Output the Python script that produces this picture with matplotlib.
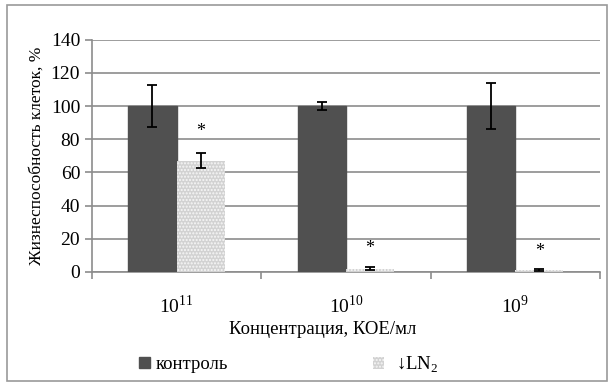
import matplotlib
matplotlib.use("Agg")
import matplotlib.pyplot as plt
import numpy as np
from matplotlib.patches import Patch, Rectangle

plt.rcParams["font.family"] = ["Liberation Serif", "DejaVu Serif"]
plt.rcParams["mathtext.fontset"] = "custom"
plt.rcParams["mathtext.rm"] = "Liberation Serif"
plt.rcParams["hatch.linewidth"] = 1.0

categories = ["$10^{11}$", "$10^{10}$", "$10^{9}$"]
control = [100, 100, 100]
control_err = [12.5, 2.5, 14]
ln2 = [67, 2, 1]
ln2_err = [4.5, 1.0, 0.5]
star_y = [85, 14, 12.5]

fig = plt.figure(figsize=(6.09, 3.83), dpi=100)
ax = fig.add_axes([0.151, 0.29, 0.834, 0.606])

x = np.arange(len(categories))
w = 0.285
hatch_face = "#d2d2d2"
hatch_edge = "#f7f7f7"
ax.bar(x - w / 2, control, w, color="#505050", edgecolor="#505050", zorder=3)
ax.bar(x + w / 2, ln2, w, color=hatch_face, edgecolor=hatch_edge, hatch=".....",
       linewidth=0, zorder=3)
ax.errorbar(x - w / 2, control, yerr=control_err, fmt="none", ecolor="black",
            elinewidth=1.3, capsize=3.5, capthick=1.3, zorder=4)
ax.errorbar(x + w / 2, ln2, yerr=ln2_err, fmt="none", ecolor="black",
            elinewidth=1.3, capsize=3.5, capthick=1.3, zorder=4)
for xi, sy in zip(x + w / 2, star_y):
    ax.text(xi, sy, "*", ha="center", va="center", fontsize=13, zorder=5)

ax.set_ylim(0, 140)
ax.set_xlim(-0.5, 2.5)
ax.set_yticks(np.arange(0, 141, 20))
ax.yaxis.grid(True, color="#8c8c8c", linewidth=1.2, zorder=0)
ax.set_axisbelow(True)

ax.set_xticks([-0.5, 0.5, 1.5, 2.5])
ax.set_xticklabels([])
ax.set_xticks(x, minor=True)
ax.set_xticklabels(categories, minor=True, fontsize=14)
ax.tick_params(axis="x", which="minor", length=0, pad=16)
ax.tick_params(axis="x", which="major", length=5, color="#8c8c8c", width=1.2)
ax.tick_params(axis="y", length=5, color="#8c8c8c", width=1.2, labelsize=14)

for s in ["top", "right"]:
    ax.spines[s].set_visible(False)
for s in ["left", "bottom"]:
    ax.spines[s].set_color("#8c8c8c")
    ax.spines[s].set_linewidth(1.2)

ax.set_ylabel("Жизнеспособность клеток, %", fontsize=12.5, labelpad=4)
ax.set_xlabel("Концентрация, КОЕ/мл", fontsize=13.5, labelpad=3)
ax.xaxis.set_label_coords(0.455, -0.21)

fig.legend([Patch(facecolor="#505050", edgecolor="#505050")], ["контроль"],
           loc="center left", bbox_to_anchor=(0.2, 0.048), frameon=False,
           fontsize=13.5, handlelength=0.6, handleheight=0.6, handletextpad=0.3)
fig.legend([Patch(facecolor=hatch_face, edgecolor=hatch_edge, hatch=".....", linewidth=0)],
           ["↓LN$_2$"], loc="center left", bbox_to_anchor=(0.585, 0.048),
           frameon=False, fontsize=13.5, handlelength=0.6, handleheight=0.6,
           handletextpad=0.6)

fig.patches.append(Rectangle((0.012, 0.005), 0.985, 0.982, transform=fig.transFigure,
                             fill=False, edgecolor="#9a9a9a", linewidth=1.2))

fig.savefig("out.png", dpi=100)
